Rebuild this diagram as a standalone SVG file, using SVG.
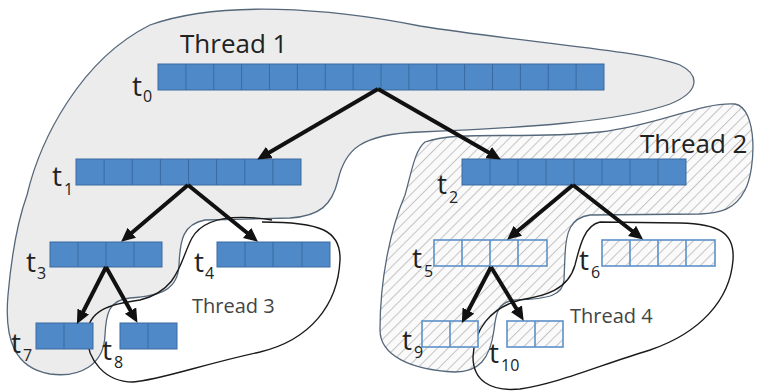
<svg xmlns="http://www.w3.org/2000/svg" width="757" height="392" viewBox="0 0 757 392">
<defs>
<pattern id="hatch" patternUnits="userSpaceOnUse" width="7.5" height="7.5" patternTransform="rotate(45)">
<rect width="7.5" height="7.5" fill="#fafafa"/>
<line x1="0" y1="0" x2="0" y2="7.5" stroke="#c4c4c4" stroke-width="2"/>
</pattern>
<marker id="ah" markerUnits="userSpaceOnUse" markerWidth="16" markerHeight="14" refX="5" refY="6.5" orient="auto">
<path d="M0,0 L14,6.5 L0,13 z" fill="#111"/>
</marker>
<style>
.blob1{fill:#ececec;stroke:#55677a;stroke-width:1.3}
.blob2{fill:url(#hatch);stroke:#55677a;stroke-width:1.3}
.loop{fill:none;stroke:#1a1a1a;stroke-width:1.4}
.arr{fill:#4f89c8;stroke:#3a6aa0;stroke-width:1}
.div{stroke:#3a6aa0;stroke-width:1;fill:none}
.harr{fill:url(#hatch);stroke:#5c90c8;stroke-width:1.6}
.hdiv{stroke:#5c90c8;stroke-width:1.6;fill:none}
.edge{stroke:#111;stroke-width:4;fill:none;marker-end:url(#ah)}
.big{font-family:"Open Sans","Liberation Sans",sans-serif;font-size:26px;fill:#222}
.mid{font-family:"Open Sans","Liberation Sans",sans-serif;font-size:20px;fill:#444}
.t{font-family:"Open Sans","Liberation Sans",sans-serif;font-size:28px;fill:#222}
.s{font-family:"Open Sans","Liberation Sans",sans-serif;font-size:16px;fill:#222}
</style>
</defs>

<g id="thread1">
<path class="blob1" d="M 27,195 C 40,140 80,60 150,25 C 220,0 330,8 420,26 C 520,42 640,50 680,65 C 700,75 700,92 670,104 C 620,122 520,128 420,132 C 360,134 345,150 338,180 C 332,205 320,216 290,218 L 205,220 C 183,224 180,240 179,265 C 178,290 160,296 130,298 C 108,300 106,315 105,335 C 104,365 80,378 50,374 C 15,368 4,340 8,295 C 12,250 18,220 27,195 Z"/>
<text class="big" x="180" y="53">Thread 1</text>
</g>

<g id="thread2">
<path class="blob2" d="M 425,142 C 460,130 520,140 600,132 C 660,125 700,102 735,104 C 758,108 756,170 745,190 C 735,210 720,213 700,214 L 590,215 C 570,218 566,232 565,255 L 564,280 C 563,295 550,299 515,300 C 498,302 496,312 494,330 C 490,360 478,372 455,372 C 410,370 380,355 380,330 C 380,280 390,230 405,195 C 412,170 415,150 425,142 Z"/>
<text class="big" x="640" y="153">Thread 2</text>
</g>

<g id="thread3">
<path class="loop" d="M 272,220 C 240,215 205,215 192,238 C 180,260 180,290 140,300 C 110,304 88,310 87,335 C 87,360 105,382 133,382 C 160,380 200,365 260,352 C 310,340 338,305 340,260 C 341,230 320,222 262,222"/>
<text class="mid" x="192" y="313">Thread 3</text>
</g>

<g id="thread4">
<path class="loop" d="M 600,222 C 585,225 580,245 575,265 C 568,290 545,296 520,300 C 490,308 474,330 473,357 C 473,380 490,392 520,389 C 560,383 600,365 650,350 C 700,333 730,300 733,260 C 735,232 718,224 680,223 L 600,222"/>
<text class="mid" x="570" y="323">Thread 4</text>
</g>

<g id="t0">
<rect class="arr" x="158" y="64" width="446" height="26"/>
<path class="div" d="M185.9,64v26M213.8,64v26M241.6,64v26M269.5,64v26M297.4,64v26M325.3,64v26M353.1,64v26M381,64v26M408.9,64v26M436.8,64v26M464.6,64v26M492.5,64v26M520.4,64v26M548.3,64v26M576.1,64v26"/>
<text class="t" x="132" y="96">t</text><text class="s" x="143" y="102">0</text>
</g>
<g id="t1">
<rect class="arr" x="76" y="159" width="225" height="26"/>
<path class="div" d="M104.1,159v26M132.3,159v26M160.4,159v26M188.5,159v26M216.6,159v26M244.8,159v26M272.9,159v26"/>
<text class="t" x="52" y="186">t</text><text class="s" x="64" y="195">1</text>
</g>
<g id="t2">
<rect class="arr" x="462" y="159" width="224" height="26"/>
<path class="div" d="M490,159v26M518,159v26M546,159v26M574,159v26M602,159v26M630,159v26M658,159v26"/>
<text class="t" x="437" y="194">t</text><text class="s" x="449" y="203">2</text>
</g>
<g id="t3">
<rect class="arr" x="50" y="242" width="112" height="25"/>
<path class="div" d="M78,242v25M106,242v25M134,242v25"/>
<text class="t" x="26" y="272">t</text><text class="s" x="37" y="279">3</text>
</g>
<g id="t4">
<rect class="arr" x="217" y="242" width="113" height="25"/>
<path class="div" d="M245,242v25M273,242v25M302,242v25"/>
<text class="t" x="194" y="272">t</text><text class="s" x="205" y="279">4</text>
</g>
<g id="t5">
<rect class="harr" x="434" y="240" width="113" height="26"/>
<path class="hdiv" d="M462,240v26M490,240v26M518,240v26"/>
<text class="t" x="412" y="268">t</text><text class="s" x="424" y="277">5</text>
</g>
<g id="t6">
<rect class="harr" x="602" y="240" width="113" height="26"/>
<path class="hdiv" d="M630,240v26M658,240v26M686,240v26"/>
<text class="t" x="579" y="270">t</text><text class="s" x="591" y="278">6</text>
</g>
<g id="t7">
<rect class="arr" x="36" y="323" width="57" height="26"/>
<path class="div" d="M64,323v26"/>
<text class="t" x="11" y="353">t</text><text class="s" x="23" y="361">7</text>
</g>
<g id="t8">
<rect class="arr" x="120" y="323" width="57" height="26"/>
<path class="div" d="M148,323v26"/>
<text class="t" x="102" y="360">t</text><text class="s" x="114" y="368">8</text>
</g>
<g id="t9">
<rect class="harr" x="422" y="321" width="56" height="26"/>
<path class="hdiv" d="M450,321v26"/>
<text class="t" x="402" y="350">t</text><text class="s" x="414" y="358">9</text>
</g>
<g id="t10">
<rect class="harr" x="507" y="321" width="56" height="26"/>
<path class="hdiv" d="M535,321v26"/>
<text class="t" x="489" y="363">t</text><text class="s" x="501" y="371">10</text>
</g>

<g id="connectors">
<line class="edge" x1="378" y1="89" x2="265" y2="155"/>
<line class="edge" x1="378" y1="89" x2="493" y2="155"/>
<line class="edge" x1="188" y1="185" x2="128" y2="236"/>
<line class="edge" x1="188" y1="185" x2="251" y2="236"/>
<line class="edge" x1="106" y1="267" x2="81" y2="316"/>
<line class="edge" x1="106" y1="267" x2="133" y2="315"/>
<line class="edge" x1="573" y1="185" x2="514" y2="234"/>
<line class="edge" x1="573" y1="185" x2="636" y2="234"/>
<line class="edge" x1="491" y1="267" x2="466" y2="315"/>
<line class="edge" x1="491" y1="267" x2="519" y2="313"/>
</g>
</svg>
